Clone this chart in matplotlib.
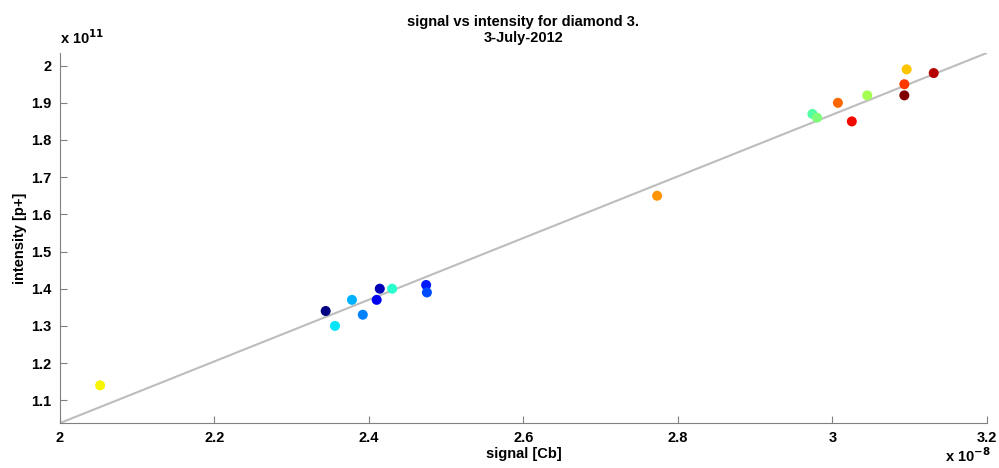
import matplotlib
matplotlib.use("Agg")
import matplotlib.pyplot as plt
import numpy as np

plt.rcParams['font.family'] = ['Liberation Sans', 'DejaVu Sans']
plt.rcParams['font.weight'] = 'bold'

# Shots in measurement order (signal in 1e-8 Cb, intensity in 1e11 p+)
shot = [1, 2, 3, 4, 5, 6, 7, 8, 9, 10,
        11, 12, 14, 15, 16, 17, 18, 19, 20, 21]
signal = [2.344, 2.414, 2.410, 2.474, 2.475, 2.392, 2.378, 2.356, 2.430, 2.974,
          2.980, 3.045, 2.052, 3.096, 2.773, 3.007, 3.093, 3.025, 3.131, 3.093]
intensity = [1.34, 1.40, 1.37, 1.41, 1.39, 1.33, 1.37, 1.30, 1.40, 1.87,
             1.86, 1.92, 1.14, 1.99, 1.65, 1.90, 1.95, 1.85, 1.98, 1.92]

x_ticks = [2, 2.2, 2.4, 2.6, 2.8, 3, 3.2]
y_ticks = [1.1, 1.2, 1.3, 1.4, 1.5, 1.6, 1.7, 1.8, 1.9, 2]

fig = plt.figure(figsize=(9.99, 4.68), dpi=100)
ax = fig.add_axes([0.060, 0.096, 0.928, 0.791])

# linear fit through the shots
p = np.polyfit(signal, intensity, 1)
xf = np.array([x_ticks[0], x_ticks[-1]])
yf = np.polyval(p, xf)
ax.plot(xf, yf, color='#bdbdbd', lw=1.5, zorder=1)

ax.scatter(signal, intensity, c=shot, cmap='jet', vmin=shot[0], vmax=shot[-1],
           s=52, zorder=2, linewidths=0)

ax.set_xlim(xf[0], xf[1])
ax.set_ylim(yf[0], yf[1])
ax.set_xticks(x_ticks)
ax.set_xticklabels([f"{t:g}" for t in x_ticks])
ax.set_yticks(y_ticks)
ax.set_yticklabels([f"{t:g}" for t in y_ticks])

for side in ['top', 'right']:
    ax.spines[side].set_visible(False)
for side in ['left', 'bottom']:
    ax.spines[side].set_color('#808080')
ax.tick_params(direction='in', length=5, color='#808080', labelsize=10.5, pad=6)

ax.set_xlabel('signal [Cb]', fontsize=10.5, fontweight='bold', labelpad=1)
ax.set_ylabel('intensity [p+]', fontsize=10.5, fontweight='bold', labelpad=3)
ax.set_title('signal vs intensity for diamond 3.\n3-July-2012', fontsize=10.5,
             fontweight='bold', linespacing=1.15, pad=8)

fig.text(0.060, 0.905, r'x 10$^{\mathbf{11}}$', fontsize=10.5, fontweight='bold')
fig.text(0.946, 0.012, r'x 10$^{\mathbf{-8}}$', fontsize=10.5, fontweight='bold')

fig.savefig('out.png', dpi=100)
